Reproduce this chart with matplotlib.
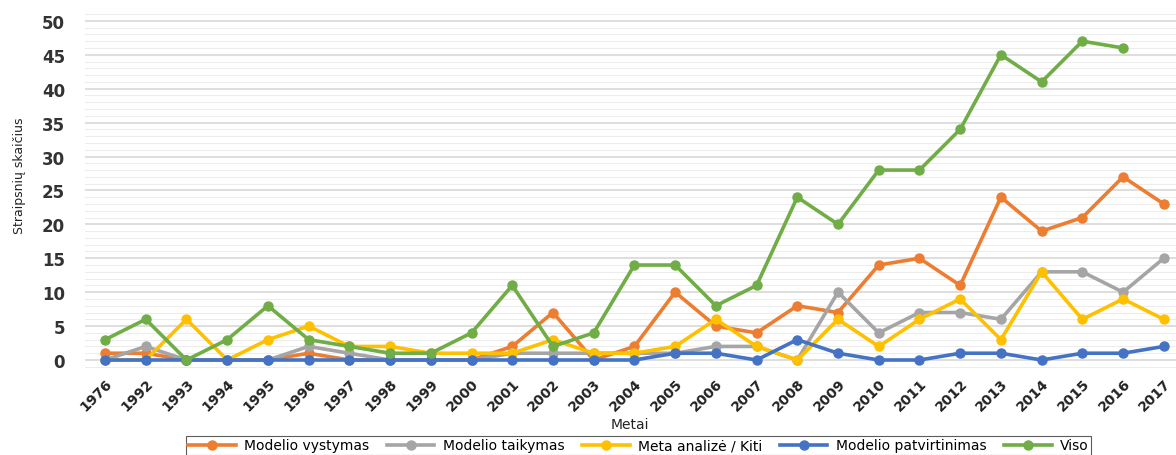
import matplotlib
matplotlib.use("Agg")
import matplotlib.pyplot as plt
import numpy as np
from matplotlib.ticker import MultipleLocator

years = ["1976", "1992", "1993", "1994", "1995", "1996", "1997", "1998", "1999",
         "2000", "2001", "2002", "2003", "2004", "2005", "2006", "2007", "2008",
         "2009", "2010", "2011", "2012", "2013", "2014", "2015", "2016", "2017"]

modelio_vystymas = [1, 1, 0, 0, 0, 1, 0, 0, 0, 0, 2, 7, 0, 2, 10, 5, 4, 8,
                    7, 14, 15, 11, 24, 19, 21, 27, 23]
modelio_taikymas = [0, 2, 0, 0, 0, 2, 1, 0, 0, 0, 1, 1, 1, 1, 1, 2, 2, 0,
                    10, 4, 7, 7, 6, 13, 13, 10, 15]
meta_analize = [0, 0, 6, 0, 3, 5, 2, 2, 1, 1, 1, 3, 1, 1, 2, 6, 2, 0,
                6, 2, 6, 9, 3, 13, 6, 9, 6]
modelio_patvirtinimas = [0, 0, 0, 0, 0, 0, 0, 0, 0, 0, 0, 0, 0, 0, 1, 1, 0, 3,
                         1, 0, 0, 1, 1, 0, 1, 1, 2]
viso = [3, 6, 0, 3, 8, 3, 2, 1, 1, 4, 11, 2, 4, 14, 14, 8, 11, 24,
        20, 28, 28, 34, 45, 41, 47, 46, np.nan]

series = [
    ("Modelio vystymas", modelio_vystymas, "#ED7D31"),
    ("Modelio taikymas", modelio_taikymas, "#A5A5A5"),
    ("Meta analizė / Kiti", meta_analize, "#FFC000"),
    ("Modelio patvirtinimas", modelio_patvirtinimas, "#4472C4"),
    ("Viso", viso, "#70AD47"),
]

fig = plt.figure(figsize=(11.76, 4.56), dpi=100)
ax = fig.add_axes([0.072, 0.186, 0.928, 0.781])

x = np.arange(len(years))
for name, vals, col in series:
    ax.plot(x, vals, color=col, lw=2.6, marker="o", ms=6.5, label=name,
            solid_joinstyle="round")

ax.set_xlim(-0.5, 26.3)
ax.set_ylim(-1.5, 51)
ax.set_yticks(range(0, 51, 5))
ax.yaxis.set_minor_locator(MultipleLocator(1))
ax.grid(axis="y", which="major", color="#d4d4d4", lw=1.1)
ax.grid(axis="y", which="minor", color="#ececec", lw=0.7)
ax.set_axisbelow(True)
for s in ax.spines.values():
    s.set_visible(False)
ax.tick_params(axis="both", which="both", length=0)
ax.set_xticks(x)
ax.set_xticklabels(years, rotation=45, ha="right", rotation_mode="anchor",
                   fontsize=10, fontweight="bold", color="#222222")
for lab in ax.get_yticklabels():
    lab.set_fontsize(12)
    lab.set_fontweight("bold")
    lab.set_color("#333333")
ax.tick_params(axis="y", pad=14)
ax.tick_params(axis="x", pad=4)

ax.set_xlabel("Metai", fontsize=10, color="#222222", labelpad=3)
fig.text(0.017, 0.615, "Straipsnių skaičius", rotation=90, fontsize=9,
         color="#222222", ha="center", va="center")

leg = fig.legend(loc="upper center", bbox_to_anchor=(0.543, 0.056),
                 bbox_transform=fig.transFigure, ncol=5, fontsize=10,
                 frameon=True, fancybox=False, edgecolor="#333333",
                 handlelength=3.4, columnspacing=1.3, handletextpad=0.6,
                 borderpad=0.15)
leg.get_frame().set_linewidth(0.8)

fig.savefig("out.png", dpi=100)
